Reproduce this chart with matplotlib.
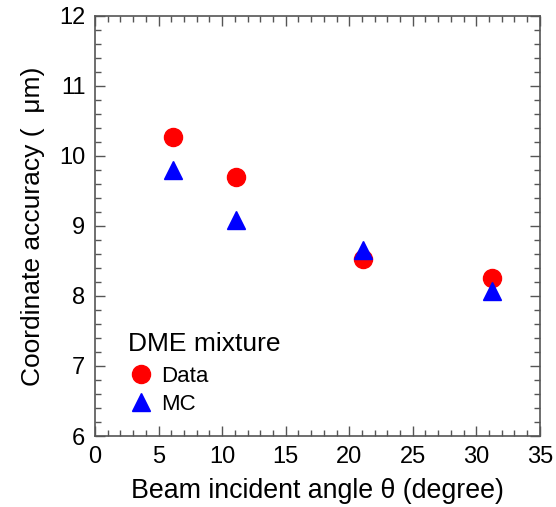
import matplotlib
matplotlib.use("Agg")
import matplotlib.pyplot as plt
from matplotlib.ticker import MultipleLocator

plt.rcParams['font.family'] = ['Liberation Sans', 'DejaVu Sans']

angle_data = [6.1, 11.1, 21.1, 31.2]
acc_data = [10.27, 9.70, 8.52, 8.26]
angle_mc = [6.1, 11.1, 21.1, 31.2]
acc_mc = [9.80, 9.09, 8.66, 8.07]

fig = plt.figure(figsize=(5.56, 5.07), dpi=100)
ax = fig.add_axes([0.171, 0.140, 0.800, 0.829])

ax.plot(angle_data, acc_data, 'o', color='#ff0000', markersize=13, label='Data', linestyle='none')
ax.plot(angle_mc, acc_mc, '^', color='#0000ff', markersize=13, label='MC', linestyle='none')

ax.set_xlim(0, 35)
ax.set_ylim(6, 12)
ax.xaxis.set_major_locator(MultipleLocator(5))
ax.xaxis.set_minor_locator(MultipleLocator(1))
ax.yaxis.set_major_locator(MultipleLocator(1))
ax.yaxis.set_minor_locator(MultipleLocator(0.2))
ax.tick_params(which='both', direction='in', top=True, right=True, color='#555555', width=1.0)
ax.tick_params(which='major', length=7, labelsize=17)
ax.tick_params(axis='x', which='major', pad=7.5)
ax.tick_params(axis='y', which='major', pad=7)
ax.tick_params(which='minor', length=4)
for s in ax.spines.values():
    s.set_color('#555555')
    s.set_linewidth(1.2)

ax.set_xlabel('Beam incident angle θ (degree)', fontsize=19.3, labelpad=7)
ax.set_ylabel('Coordinate accuracy (  μm)', fontsize=19, labelpad=10)

ax.text(0.074, 0.2024, 'DME mixture', transform=ax.transAxes, fontsize=19,
        ha='left', va='baseline')
leg = ax.legend(frameon=False, loc='center left',
                bbox_to_anchor=(0.072, 0.108), fontsize=16,
                handlelength=1.26, handletextpad=0.27,
                labelspacing=0.32, borderaxespad=0, borderpad=0,
                markerscale=1.0)

fig.savefig('out.png', dpi=100)
